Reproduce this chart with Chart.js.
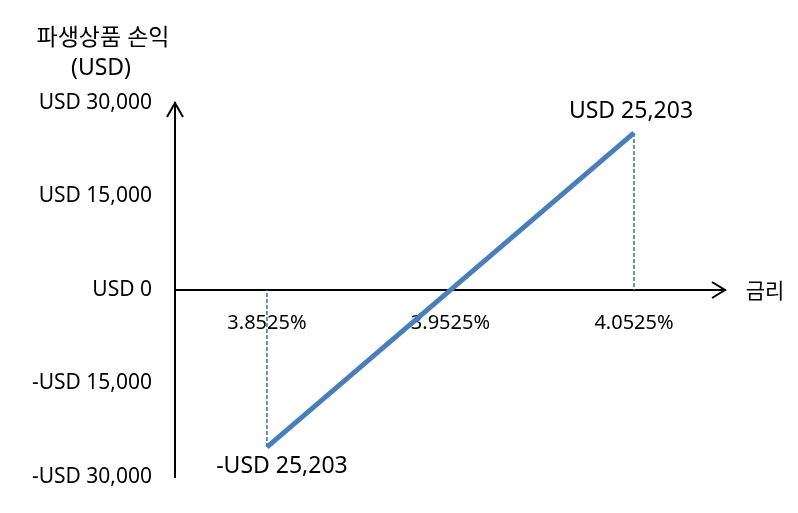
<!DOCTYPE html>
<html>
<head>
<meta charset="utf-8">
<script src="https://cdn.jsdelivr.net/npm/chart.js@4"></script>
<style>
  html, body { margin: 0; padding: 0; background: #fff; }
  #wrap { width: 798px; height: 513px; position: relative; }
</style>
</head>
<body>
<div id="wrap"><canvas id="pnl"></canvas></div>
<script>
// derivative P&L vs interest rate
const rates = [3.8525, 4.0525];
const pnl = [-25203, 25203];
const xTicks = [3.8525, 3.9525, 4.0525];
const yTicks = [-30000, -15000, 0, 15000, 30000];
const yTitle = ["파생상품 손익", "(USD)"];
const xTitle = "금리";

const FONT = "'Noto Sans', 'Noto Sans CJK KR', sans-serif";
const LINE = "#4a7ebb";
const DASH = "#3c6ea8";

const usd = (v) => (v < 0 ? "-" : "") + "USD " + Math.abs(v).toLocaleString("en-US");

const overlay = {
  id: "overlay",
  beforeDatasetsDraw(chart) {
    const { ctx, scales: { x, y } } = chart;
    ctx.save();
    ctx.strokeStyle = DASH;
    ctx.lineWidth = 1.5;
    ctx.setLineDash([4, 2]);
    rates.forEach((r, i) => {
      const px = x.getPixelForValue(r);
      ctx.beginPath();
      ctx.moveTo(px, y.getPixelForValue(pnl[i]));
      ctx.lineTo(px, y.getPixelForValue(0));
      ctx.stroke();
    });
    ctx.restore();
  },
  afterDraw(chart) {
    const { ctx, chartArea: a, scales: { x, y } } = chart;
    const y0 = y.getPixelForValue(0);
    ctx.save();
    ctx.strokeStyle = "#000";
    ctx.lineWidth = 2;
    // arrow heads
    ctx.beginPath();
    ctx.moveTo(a.left - 8, a.top + 14);
    ctx.lineTo(a.left, a.top);
    ctx.lineTo(a.left + 8, a.top + 14);
    ctx.moveTo(a.right - 13, y0 - 8);
    ctx.lineTo(a.right, y0);
    ctx.lineTo(a.right - 13, y0 + 8);
    ctx.stroke();

    ctx.fillStyle = "#000";
    ctx.textAlign = "center";
    ctx.textBaseline = "middle";
    ctx.font = "23px " + FONT;
    ctx.fillText(yTitle[0], 103, 38);
    ctx.fillText(yTitle[1], 101, 68);
    ctx.font = "21px " + FONT;
    ctx.fillText(xTitle, a.right + 40, y0 + 2);

    ctx.font = "23px " + FONT;
    const pts = chart.getDatasetMeta(0).data;
    pts.forEach((p, i) => {
      const off = pnl[i] >= 0 ? [-3, -21] : [15, 19];
      ctx.fillText(usd(pnl[i]), p.x + off[0], p.y + off[1]);
    });
    ctx.restore();
  },
};

new Chart(document.getElementById("pnl"), {
  type: "scatter",
  data: {
    datasets: [
      {
        data: rates.map((r, i) => ({ x: r, y: pnl[i] })),
        showLine: true,
        borderColor: LINE,
        borderWidth: 5,
        pointRadius: 0,
        borderCapStyle: "butt",
      },
    ],
  },
  options: {
    responsive: true,
    maintainAspectRatio: false,
    animation: false,
    layout: { padding: { top: 103, bottom: 36, left: 0, right: 73 } },
    plugins: { legend: { display: false }, tooltip: { enabled: false } },
    scales: {
      x: {
        type: "linear",
        position: { y: 0 },
        min: 3.8024,
        max: 4.1021,
        afterBuildTicks: (s) => { s.ticks = xTicks.map((v) => ({ value: v })); },
        grid: { display: false, drawTicks: false },
        border: { display: true, color: "#000", width: 2 },
        ticks: {
          color: "#000",
          font: { size: 20, family: FONT },
          padding: 21,
          maxRotation: 0,
          callback: (v) => Number(v).toFixed(4) + "%",
        },
      },
      y: {
        type: "linear",
        min: -30000,
        max: 30000,
        afterBuildTicks: (s) => { s.ticks = yTicks.map((v) => ({ value: v })); },
        afterFit: (s) => { s.width = 175; },
        grid: { display: false, drawTicks: false },
        border: { display: true, color: "#000", width: 2 },
        ticks: {
          color: "#000",
          font: { size: 21, family: FONT },
          padding: 23,
          callback: (v) => usd(v),
        },
      },
    },
  },
  plugins: [overlay],
});
</script>
</body>
</html>
